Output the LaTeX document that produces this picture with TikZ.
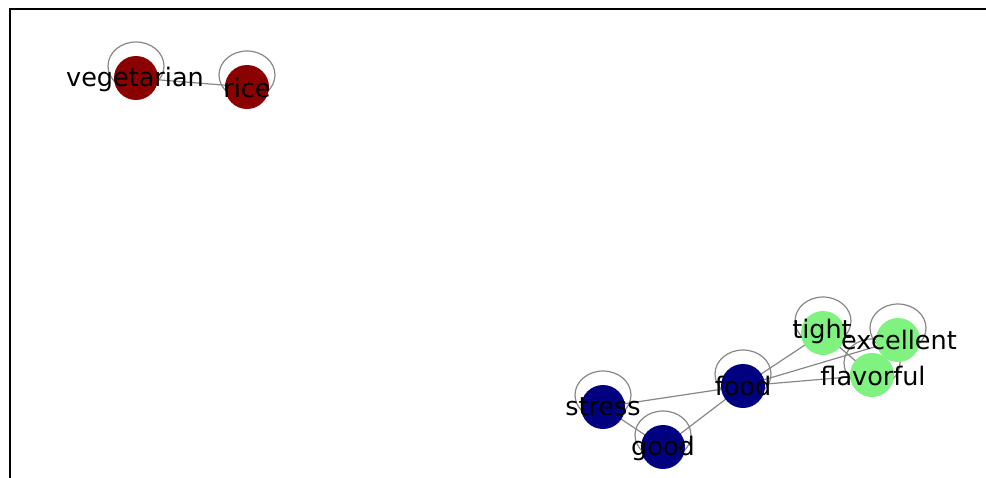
\documentclass[tikz,border=0pt]{standalone}
\usepackage{fontspec}
\setmainfont{DejaVu Sans}
\usetikzlibrary{backgrounds}
\definecolor{nred}{RGB}{139,0,0}
\definecolor{nblue}{RGB}{0,0,128}
\definecolor{ngreen}{RGB}{128,242,128}
\definecolor{egray}{RGB}{135,135,135}
\tikzset{
  gnode/.style={circle, inner sep=0pt, minimum size=44pt, draw=none},
  lbl/.style={inner sep=0pt, text=black, font=\fontsize{25.5}{25.5}\selectfont},
  edgest/.style={draw=egray, line width=1.2pt},
  loopst/.style={draw=egray, line width=1.2pt}
}
\begin{document}
\begin{tikzpicture}[x=1pt,y=-1pt]
\useasboundingbox (0,0) rectangle (986,477);
% frame
\begin{scope}
\clip (0,0) rectangle (986,477);
\draw[black, line width=2.2pt] (10,480) -- (10,9) -- (990,9);
\end{scope}
% nodes
\node[gnode, fill=nred]   (veg)   at (136,78)  {};
\node[gnode, fill=nred]   (rice)  at (247,87)  {};
\node[gnode, fill=nblue]  (stress) at (603,407) {};
\node[gnode, fill=nblue]  (good)  at (663,447) {};
\node[gnode, fill=nblue]  (food)  at (743,386) {};
\node[gnode, fill=ngreen] (tight) at (823,333) {};
\node[gnode, fill=ngreen] (flav)  at (872,375) {};
\node[gnode, fill=ngreen] (exc)   at (898,340) {};
% labels
\node[lbl] (lveg)   at (135,79)  {vegetarian};
\node[lbl] (lrice)  at (247,88)  {rice};
\node[lbl] (lstress) at (603,407) {stress};
\node[lbl] (lgood)  at (663,448) {good};
\node[lbl] (lfood)  at (743,386) {food};
\node[lbl] (ltight) at (822,331) {tight};
\node[lbl] (lexc)   at (899,340) {excellent};
\node[lbl] (lflav)  at (873,376) {flavorful};
\begin{scope}[on background layer]
% edges
\draw[edgest] (veg.center) -- (rice.center);
\draw[edgest] (stress.center) -- (food.center);
\draw[edgest] (stress.center) -- (good.center);
\draw[edgest] (good.center) -- (food.center);
\draw[edgest] (food.center) -- (tight.center);
\draw[edgest] (food.center) -- (exc.center);
\draw[edgest] (food.center) -- (flav.center);
\draw[edgest] (tight.center) -- (flav.center);
% self loops
\foreach \n in {veg,rice,stress,good,food,tight,flav,exc}{
  \draw[loopst] ([yshift=12pt]\n.center) ellipse [x radius=28pt, y radius=24pt];
}
\end{scope}
\end{tikzpicture}
\end{document}
